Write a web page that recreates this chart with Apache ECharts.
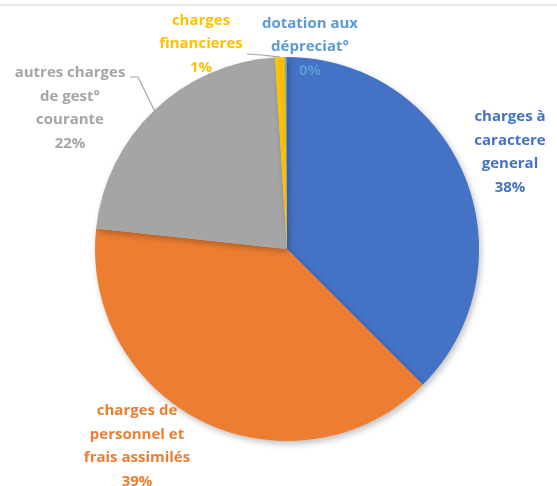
<!DOCTYPE html>
<html>
<head>
<meta charset="utf-8">
<script src="https://cdn.jsdelivr.net/npm/echarts@6/dist/echarts.min.js"></script>
<style>html,body{margin:0;padding:0;background:#fff;}#c{width:557px;height:486px;}</style>
</head>
<body>
<div id="c"></div>
<script>
var categories = ["charges à\ncaractere\ngeneral", "charges de\npersonnel et\nfrais assimilés", "autres charges\nde gest°\ncourante", "charges\nfinancieres", "dotation aux\ndépreciat°"];
var values = [37.5, 39.2, 22.3, 0.85, 0.15];
var colors = ["#4472C4", "#ED7D31", "#A5A5A5", "#FFC000", "#5B9BD5"];
var labelPos = [[510, 152], [137, 446], [70, 108], [201, 44], [310, 47]];

var chart = echarts.init(document.getElementById('c'));
var data = categories.map(function (c, i) {
  return {
    name: c, value: values[i],
    itemStyle: { color: colors[i] },
    label: { color: colors[i] },
    labelLine: { show: i === 2 || i === 3 }
  };
});
chart.setOption({
  animation: false,
  graphic: [{ type: 'rect', shape: { x: 0, y: 4, width: 557, height: 2 }, style: { fill: '#e8e8e8' } }],
  series: [{
    type: 'pie',
    center: [287, 249],
    radius: 192,
    startAngle: 90,
    clockwise: true,
    percentPrecision: 0,
    data: data,
    itemStyle: { shadowBlur: 6, shadowColor: 'rgba(0,0,0,0.25)', shadowOffsetX: 2, shadowOffsetY: 3 },
    label: {
      show: true,
      position: 'outside',
      formatter: '{b}\n{d}%',
      fontFamily: 'Open Sans',
      fontWeight: 'bold',
      fontSize: 15,
      lineHeight: 23.5,
      align: 'center',
      overflow: 'none'
    },
    labelLine: { lineStyle: { color: '#A5A5A5', width: 1.2 } },
    labelLayout: function (p) {
      var i = p.dataIndex;
      var pos = labelPos[i];
      var res = { x: pos[0], y: pos[1], align: 'center', verticalAlign: 'middle' };
      if (p.labelLinePoints) {
        var a = p.labelLinePoints[0];
        if (i === 2) {
          var r = p.labelRect;
          res.labelLinePoints = [a, [pos[0] + 68, pos[1] - 31], [pos[0] + 60, pos[1] - 31]];
        } else if (i === 3) {
          res.labelLinePoints = [a, [pos[0] + 61, pos[1] + 11], [pos[0] + 46, pos[1] + 10]];
        }
      }
      return res;
    }
  }]
});
</script>
</body>
</html>
